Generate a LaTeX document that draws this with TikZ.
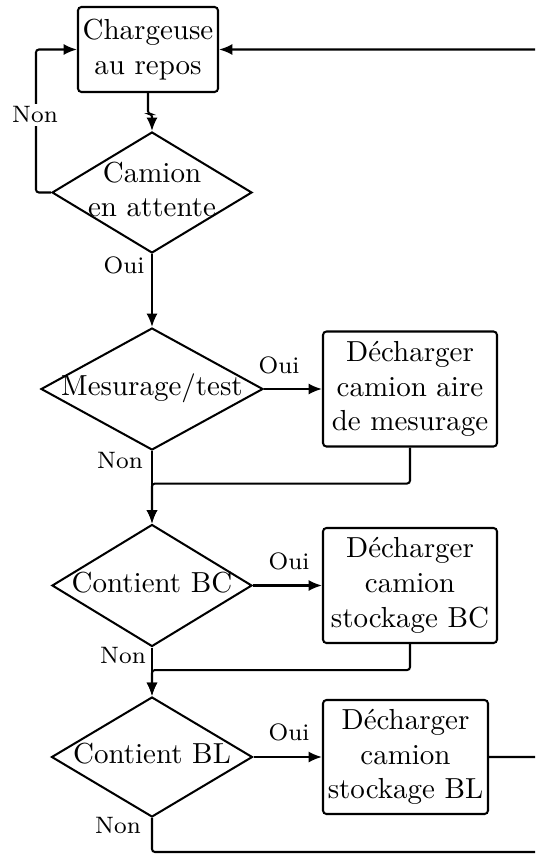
\documentclass[tikz,border=0pt]{standalone}
\usetikzlibrary{shapes.geometric,arrows.meta}
% text of a decision node: it takes no width, so the diamond keeps its set size
\newcommand\dtext[1]{\makebox[0pt]{\begin{tabular}{@{}c@{}}#1\end{tabular}}}
\begin{document}
\begin{tikzpicture}[x=0.345pt,y=-0.345pt,
  every node/.style={font=\fontsize{10}{12}\selectfont},
  flow/.style={line width=0.7pt,-{Latex[length=4.6pt,width=3.8pt]},rounded corners=1pt},
  plain/.style={line width=0.7pt,rounded corners=1pt},
  procbox/.style={draw,line width=0.7pt,rounded corners=1.2pt,align=center,inner sep=0pt},
  decision/.style={draw,diamond,line width=0.7pt,inner sep=0pt,aspect=1.65},
  answer/.style={font=\fontsize{8.2}{10}\selectfont,inner sep=1pt}
]
\useasboundingbox (0,0) rectangle (535,854);
\clip (0,0) rectangle (535,854);

% process boxes
\node[procbox,minimum width=140*0.345pt,minimum height=85*0.345pt] (rest) at (148,49.5) {Chargeuse\\au repos};
\node[procbox,minimum width=174*0.345pt,minimum height=115*0.345pt] (bmes) at (410,389) {D\'echarger\\camion aire\\de mesurage};
\node[procbox,minimum width=174*0.345pt,minimum height=115*0.345pt] (bbc) at (410,585.5) {D\'echarger\\camion\\stockage BC};
\node[procbox,minimum width=165*0.345pt,minimum height=114*0.345pt] (bbl) at (405.5,757) {D\'echarger\\camion\\stockage BL};

% decisions
\node[decision,minimum width=200*0.345pt,minimum height=121*0.345pt] (wait) at (152,192.5) {\dtext{Camion\\en attente}};
\node[decision,minimum width=222*0.345pt,minimum height=122*0.345pt] (meas) at (152,389) {\dtext{Mesurage/test}};
\node[decision,minimum width=200*0.345pt,minimum height=122*0.345pt] (dbc) at (152,585.5) {\dtext{Contient BC}};
\node[decision,minimum width=201*0.345pt,minimum height=120*0.345pt] (dbl) at (152,757) {\dtext{Contient BL}};

% return loop, running off to the right
\coordinate (loopR) at (575,0);
\coordinate (loopB) at (575,852);

% connectors
\draw[flow] (rest.south) -- ++(0,21) -| (wait.north);
\draw[flow] (wait.west) -- ++(-15,0) |- (rest.west);
\draw[flow] (wait.south) -- (meas.north);
\draw[flow] (meas.east) -- (bmes.west);
\draw[flow] (meas.south) -- (dbc.north);
\draw[flow] (bmes.south) -- ++(0,36) -| (dbc.north);
\draw[flow] (dbc.east) -- (bbc.west);
\draw[flow] (dbc.south) -- (dbl.north);
\draw[flow] (bbc.south) -- ++(0,26) -| (dbl.north);
\draw[flow] (dbl.east) -- (bbl.west);
\draw[flow] (bbl.east) -- (bbl.east -| loopR) |- (rest.east);
\draw[plain] (dbl.south) |- (loopB) -- (loopB |- bbl.east);

% branch labels
\node[answer,fill=white] (n1) at (35,115) {Non};
\node[answer] (o1) at (124,265) {Oui};
\node[answer] (o2) at (279,365) {Oui};
\node[answer] (n2) at (120,460) {Non};
\node[answer] (o3) at (289,561) {Oui};
\node[answer] (n3) at (123,655) {Non};
\node[answer] (o4) at (289,732) {Oui};
\node[answer] (n4) at (118,825) {Non};
\end{tikzpicture}
\end{document}
